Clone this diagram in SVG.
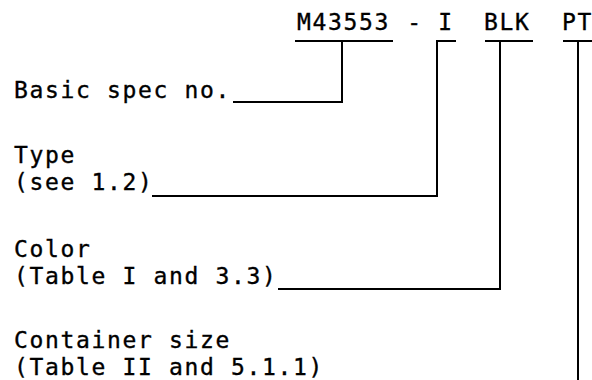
<svg xmlns="http://www.w3.org/2000/svg" width="592" height="380" viewBox="0 0 592 380">
<style>
text{font-family:"DejaVu Sans Mono","Liberation Mono",monospace;font-size:23px;letter-spacing:1.65px;fill:#000;stroke:#000;stroke-width:0.35}
.ln{stroke:#000;stroke-width:2;fill:none;stroke-linecap:square}
</style>
<rect width="592" height="380" fill="#fff"/>
<g id="code">
<text x="297" y="30" letter-spacing="2.2">M43553</text>
<text x="415" y="30" text-anchor="middle" letter-spacing="0">-</text>
<text x="446" y="30" text-anchor="middle" letter-spacing="0">I</text>
<text x="484" y="30">BLK</text>
<text x="562" y="30">PT</text>
</g>
<g id="basic"><text x="14" y="98">Basic spec no.</text></g>
<g id="type"><text x="14" y="163">Type</text><text x="14" y="190">(see 1.2)</text></g>
<g id="color"><text x="14" y="257">Color</text><text x="14" y="284">(Table I and 3.3)</text></g>
<g id="container"><text x="14" y="348">Container size</text><text x="14" y="375">(Table II and 5.1.1)</text></g>
<g id="connectors" class="ln">
<line x1="296" y1="41" x2="392" y2="41"/>
<line x1="437" y1="41" x2="455" y2="41"/>
<line x1="486" y1="41" x2="532" y2="41"/>
<line x1="564" y1="41" x2="592" y2="41"/>
<polyline points="234,102 342,102 342,41"/>
<polyline points="153,196 437,196 437,41"/>
<polyline points="279,289 500,289 500,41"/>
<line x1="578" y1="41" x2="578" y2="382"/>
</g>
</svg>
